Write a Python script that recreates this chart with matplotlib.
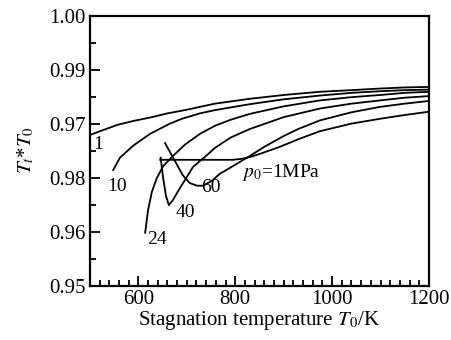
import matplotlib
matplotlib.use('Agg')
import matplotlib.pyplot as plt
from matplotlib.ticker import MultipleLocator, FixedLocator

plt.rcParams['font.family'] = ['Liberation Serif', 'DejaVu Serif']
plt.rcParams['mathtext.fontset'] = 'stix'

# curves: stagnation temperature (K) and ratio
t_1 = [500, 530, 558, 590, 628, 660, 696, 758, 830, 900, 975, 1040, 1099, 1150, 1200]
r_1 = [0.9779, 0.9789, 0.9798, 0.9805, 0.9812, 0.9819, 0.9825, 0.9837, 0.9846,
       0.9853, 0.9859, 0.9862, 0.9865, 0.9867, 0.9868]

t_10 = [548, 562, 589, 624, 665, 690, 727, 758, 830, 900, 975, 1040, 1099, 1150, 1200]
r_10 = [0.9714, 0.9737, 0.9759, 0.9781, 0.9800, 0.9809, 0.9819, 0.9825, 0.9836,
        0.9845, 0.9852, 0.9857, 0.9860, 0.9862, 0.9863]

t_24 = [614, 620, 628, 638, 651, 669, 696, 727, 758, 790, 830, 900, 975, 1040, 1099, 1150, 1200]
r_24 = [0.9598, 0.9640, 0.9674, 0.9699, 0.9721, 0.9738, 0.9761, 0.9781, 0.9796,
        0.9807, 0.9818, 0.9832, 0.9843, 0.9849, 0.9853, 0.9857, 0.9859]

t_40 = [646, 651, 657, 663, 671, 686, 700, 713, 742, 758, 790, 830, 900, 975, 1040, 1099, 1150, 1200]
r_40 = [0.9737, 0.9700, 0.9666, 0.9649, 0.9658, 0.9681, 0.9701, 0.9720, 0.9742,
        0.9755, 0.9774, 0.9790, 0.9812, 0.9828, 0.9837, 0.9843, 0.9848, 0.9851]

t_60 = [655, 692, 706, 721, 733, 752, 768, 789, 830, 860, 900, 930, 975, 1040, 1099, 1150, 1200]
r_60 = [0.9764, 0.9704, 0.9690, 0.9685, 0.9685, 0.9694, 0.9707, 0.9718, 0.9740,
        0.9757, 0.9777, 0.9790, 0.9806, 0.9821, 0.9831, 0.9837, 0.9842]

t_1mpa = [645, 795, 815, 830, 851, 892, 930, 975, 1040, 1099, 1150, 1200]
r_1mpa = [0.9733, 0.9733, 0.9735, 0.9738, 0.9744, 0.9757, 0.9771, 0.9786, 0.9800,
          0.9809, 0.9816, 0.9822]

y_ticks = [0.95, 0.96, 0.97, 0.98, 0.99, 1.00]
y_tick_labels = ['0.95', '0.96', '0.98', '0.97', '0.99', '1.00']
x_ticks = [600, 800, 1000, 1200]

fig = plt.figure(figsize=(4.52, 3.40), dpi=100)
ax = fig.add_axes([0.199, 0.160, 0.750, 0.794])

for t, r in [(t_1, r_1), (t_10, r_10), (t_24, r_24), (t_40, r_40), (t_60, r_60), (t_1mpa, r_1mpa)]:
    ax.plot(t, r, color='black', lw=1.3, solid_joinstyle='round')

# curve labels
ax.text(516, 0.9761, '1', fontsize=14, ha='center', va='center')
ax.text(556, 0.9683, '10', fontsize=14, ha='center', va='center')
ax.text(638, 0.9585, '24', fontsize=14, ha='center', va='center')
ax.text(697, 0.9635, '40', fontsize=14, ha='center', va='center')
ax.text(750, 0.9681, '60', fontsize=14, ha='center', va='center')
ax.text(814, 0.9709, r'$p_0$=1MPa', fontsize=14, ha='left', va='center')

ax.set_xlim(500, 1200)
ax.set_ylim(0.95, 1.00)
ax.xaxis.set_major_locator(FixedLocator(x_ticks))
ax.xaxis.set_minor_locator(MultipleLocator(20))
ax.yaxis.set_major_locator(FixedLocator(y_ticks))
ax.yaxis.set_minor_locator(MultipleLocator(0.005))
ax.set_yticklabels(y_tick_labels)

ax.tick_params(which='both', direction='in', top=False, right=False, labelsize=15, width=1.3)
ax.tick_params(which='major', length=7, pad=3)
ax.tick_params(which='minor', length=4)
for s in ax.spines.values():
    s.set_linewidth(1.6)

ax.set_xlabel(r'Stagnation temperature $T_0$/K', fontsize=15, labelpad=0)
ax.set_ylabel(r'$T_t$*$T_0$', fontsize=15, labelpad=9)

fig.savefig('out.png', dpi=100)
